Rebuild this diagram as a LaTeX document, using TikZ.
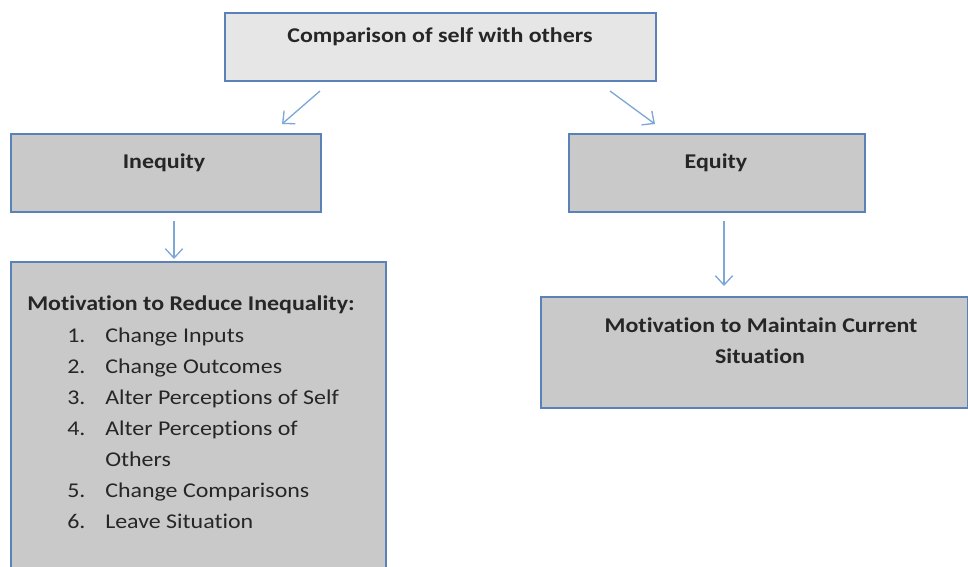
\documentclass[tikz,border=0pt]{standalone}
\usepackage{fontspec}
\setmainfont{Carlito}[Ligatures=NoCommon, FakeStretch=1.14]
\usetikzlibrary{arrows.meta}

\definecolor{boxline}{HTML}{5B82B8}
\definecolor{arrowblue}{HTML}{7DA7D9}
\definecolor{lightfill}{HTML}{E6E6E6}
\definecolor{darkfill}{HTML}{C9C9C9}
\definecolor{ink}{HTML}{262626}

\newcommand{\numitem}[2]{\makebox[28.5pt][l]{#1}#2}

\tikzset{
  box/.style={draw=boxline, line width=1.3pt, anchor=north west, inner sep=0pt},
  flow/.style={draw=arrowblue, line width=1pt, -{Straight Barb[length=7pt,width=13pt]}},
  txt/.style={text=ink, inner sep=0pt, font=\fontsize{15.75}{23.25}\selectfont},
  head/.style={txt, font=\fontsize{15.75}{23.25}\selectfont\bfseries},
}

\begin{document}
\begin{tikzpicture}[x=0.75pt,y=-0.75pt]
  \clip (0,0) rectangle (968,567);
  \fill[white] (0,0) rectangle (968,567);

  % boxes
  \node[box, fill=lightfill, minimum width=323.25pt, minimum height=51pt] (cmp) at (224,12) {};
  \node[box, fill=darkfill, minimum width=232.5pt, minimum height=58.5pt] (ineq) at (10,133) {};
  \node[box, fill=darkfill, minimum width=222pt, minimum height=58.5pt] (eq) at (568,133) {};
  \node[box, fill=darkfill, minimum width=281.25pt, minimum height=240pt] (reduce) at (10,261) {};
  \node[box, fill=darkfill, minimum width=320.25pt, minimum height=83.25pt] (keep) at (540,296) {};

  % box texts
  \node[head, anchor=base] (cmptext) at (440,43) {Comparison of self with others};
  \node[head, anchor=base] (ineqtext) at (164,168) {Inequity};
  \node[head, anchor=base] (eqtext) at (716,168) {Equity};
  \node[head, anchor=base] (keeptext1) at (761,332) {Motivation to Maintain Current};
  \node[head, anchor=base] (keeptext2) at (760,363) {Situation};

  \node[head, anchor=base west] (reducetext) at (27,310) {Motivation to Reduce Inequality:};
  \node[txt, anchor=base west] (item1) at (67,342) {\numitem{1.}{Change Inputs}};
  \node[txt, anchor=base west] (item2) at (67,373) {\numitem{2.}{Change Outcomes}};
  \node[txt, anchor=base west] (item3) at (67,404) {\numitem{3.}{Alter Perceptions of Self}};
  \node[txt, anchor=base west] (item4) at (67,435) {\numitem{4.}{Alter Perceptions of}};
  \node[txt, anchor=base west] (item4b) at (105,466) {Others};
  \node[txt, anchor=base west] (item5) at (67,497) {\numitem{5.}{Change Comparisons}};
  \node[txt, anchor=base west] (item6) at (67,528) {\numitem{6.}{Leave Situation}};

  % arrows
  \coordinate (toineq) at (320,91);
  \coordinate (ineqin) at (282,124);
  \coordinate (toeq) at (610,91);
  \coordinate (eqin) at (655,124);
  \coordinate (ineqout) at (174,221);
  \coordinate (reducein) at (174,259);
  \coordinate (eqout) at (724,221);
  \coordinate (keepin) at (724,286);

  \draw[flow] (toineq) -- (ineqin);
  \draw[flow] (toeq) -- (eqin);
  \draw[flow] (ineqout) -- (reducein);
  \draw[flow] (eqout) -- (keepin);
\end{tikzpicture}
\end{document}
